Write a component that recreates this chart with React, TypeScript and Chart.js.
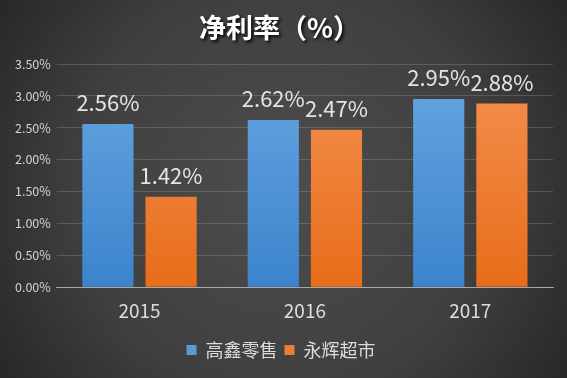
import React, { useEffect, useRef } from "react";
import { Chart, registerables } from "chart.js";

Chart.register(...registerables);

const categories = ["2015", "2016", "2017"];
const seriesNames = ["高鑫零售", "永辉超市"];
const gaoxin = [2.56, 2.62, 2.95];
const yonghui = [1.42, 2.47, 2.88];
const titleText = "净利率（%）";

const FONT = "'Noto Sans CJK SC', 'Noto Sans', sans-serif";

export default function App() {
  const ref = useRef<HTMLCanvasElement | null>(null);

  useEffect(() => {
    const canvas = ref.current;
    if (!canvas) return;

    const grad = (ctx: any, area: any, top: string, bottom: string) => {
      const g = ctx.createLinearGradient(0, area.top, 0, area.bottom);
      g.addColorStop(0, top);
      g.addColorStop(1, bottom);
      return g;
    };

    const bgPlugin = {
      id: "bg",
      beforeDraw(chart: any) {
        const { ctx, width, height } = chart;
        ctx.save();
        const g = ctx.createRadialGradient(width / 2, height / 2, 20, width / 2, height / 2, 360);
        g.addColorStop(0, "#4c4c4c");
        g.addColorStop(0.55, "#3f3f3f");
        g.addColorStop(1, "#242424");
        ctx.fillStyle = g;
        ctx.fillRect(0, 0, width, height);
        ctx.restore();
      },
    };

    const titlePlugin = {
      id: "customTitle",
      afterDraw(chart: any) {
        const { ctx, width } = chart;
        ctx.save();
        ctx.font = `bold 27px ${FONT}`;
        ctx.textAlign = "center";
        ctx.textBaseline = "middle";
        ctx.shadowColor = "rgba(0,0,0,0.85)";
        ctx.shadowOffsetX = 2;
        ctx.shadowOffsetY = 2;
        ctx.shadowBlur = 3;
        ctx.fillStyle = "#ffffff";
        ctx.fillText(titleText, width / 2 - 4, 28);
        ctx.restore();
      },
    };

    const labelPlugin = {
      id: "barLabels",
      afterDatasetsDraw(chart: any) {
        const { ctx } = chart;
        ctx.save();
        ctx.font = `22px ${FONT}`;
        ctx.fillStyle = "#e4e4e4";
        ctx.textAlign = "center";
        ctx.textBaseline = "alphabetic";
        chart.data.datasets.forEach((ds: any, i: number) => {
          const meta = chart.getDatasetMeta(i);
          meta.data.forEach((bar: any, j: number) => {
            ctx.fillText(ds.data[j].toFixed(2) + "%", bar.x, bar.y - 13);
          });
        });
        ctx.restore();
      },
    };

    const chart = new Chart(canvas, {
      type: "bar",
      data: {
        labels: categories,
        datasets: [
          {
            label: seriesNames[0],
            data: gaoxin,
            backgroundColor: (c: any) => {
              const a = c.chart.chartArea;
              if (!a) return "#5b9bd5";
              return grad(c.chart.ctx, a, "#68a6e2", "#3b84cc");
            },
            borderWidth: 0,
          },
          {
            label: seriesNames[1],
            data: yonghui,
            backgroundColor: (c: any) => {
              const a = c.chart.chartArea;
              if (!a) return "#ed7d31";
              return grad(c.chart.ctx, a, "#f49050", "#e86d1a");
            },
            borderWidth: 0,
          },
        ],
      },
      options: {
        animation: false,
        responsive: false,
        maintainAspectRatio: false,
        categoryPercentage: 0.764,
        barPercentage: 0.81,
        layout: { padding: { top: 64, left: 9, right: 14, bottom: 9 } },
        plugins: {
          title: { display: false },
          tooltip: { enabled: false },
          legend: {
            display: true,
            position: "bottom",
            labels: {
              color: "#dcdcdc",
              font: { family: FONT, size: 18 },
              boxWidth: 10,
              boxHeight: 10,
              padding: 7,
              generateLabels: (ch: any) => {
                const cols = ["#5b9bd5", "#ed7d31"];
                return ch.data.datasets.map((ds: any, i: number) => ({
                  text: ds.label,
                  fillStyle: cols[i],
                  strokeStyle: cols[i],
                  lineWidth: 0,
                  fontColor: "#dcdcdc",
                  datasetIndex: i,
                  hidden: false,
                }));
              },
            },
          },
        },
        scales: {
          x: {
            grid: { display: false, drawTicks: false },
            border: { display: true, color: "#a8a8a8", width: 1 },
            ticks: { color: "#dcdcdc", font: { family: FONT, size: 19 }, padding: 12 },
          },
          y: {
            min: 0,
            max: 3.5,
            grid: { color: "rgba(255,255,255,0.16)", drawTicks: false, lineWidth: 1 },
            border: { display: false },
            ticks: {
              stepSize: 0.5,
              color: "#d4d4d4",
              font: { family: FONT, size: 12.5 },
              padding: 6,
              callback: (v: any) => Number(v).toFixed(2) + "%",
            },
          },
        },
      },
      plugins: [bgPlugin, titlePlugin, labelPlugin],
    } as any);

    return () => chart.destroy();
  }, []);

  return (
    <div style={{ position: "fixed", left: 0, top: 0, width: 567, height: 378 }}>
      <canvas ref={ref} width={567} height={378} style={{ display: "block" }} />
    </div>
  );
}
